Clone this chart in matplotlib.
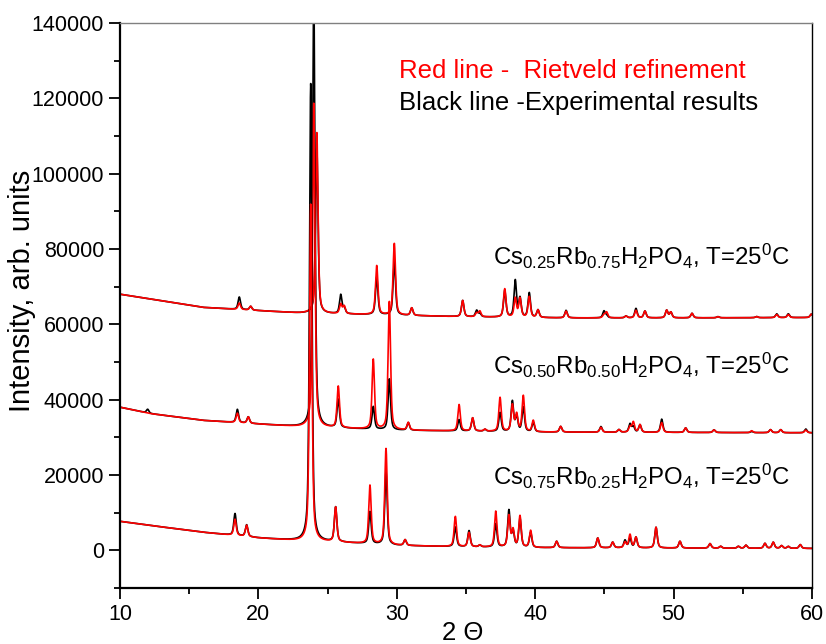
import numpy as np
import matplotlib
matplotlib.use("Agg")
import matplotlib.pyplot as plt

plt.rcParams['font.family'] = ['Liberation Sans', 'DejaVu Sans']
plt.rcParams['mathtext.fontset'] = 'custom'
plt.rcParams['mathtext.rm'] = 'Liberation Sans'
plt.rcParams['mathtext.it'] = 'Liberation Sans:italic'

# Cs0.25Rb0.75H2PO4 (top trace)
top_bg_x = [10, 16, 23, 29, 35, 42, 50, 60]
top_bg_y = [68000, 64500, 63000, 62500, 62000, 61700, 61700, 61800]
top_pos = [18.62, 19.44, 24.22, 25.95, 26.2, 28.55, 29.82, 31.08, 34.76, 35.77, 36.0,
           37.8, 38.56, 38.9, 39.57, 40.2, 42.23, 44.97, 45.16, 46.56, 47.28, 47.93,
           49.5, 49.8, 51.33, 53.2, 56.0, 57.45, 58.29, 59.95]
top_exp = [3300, 1000, 44000, 5000, 1500, 10000, 14500, 2000, 4300, 1700, 800,
           7000, 9700, 5000, 6500, 2000, 2000, 1800, 600, 500, 2500, 1800,
           2000, 1500, 1200, 300, 300, 1000, 1000, 900]
top_fit = [1700, 1000, 48000, 2500, 2000, 13000, 19000, 2000, 4300, 1000, 1500,
           7500, 5000, 5000, 5500, 2000, 1800, 800, 1500, 500, 2000, 1800,
           2000, 1500, 1200, 300, 300, 800, 800, 900]

# Cs0.50Rb0.50H2PO4 (middle trace)
mid_bg_x = [10, 12.2, 16, 23, 30, 40, 50, 60]
mid_bg_y = [38000, 36300, 34500, 32800, 31900, 31400, 31300, 31200]
mid_pos = [12.0, 18.48, 19.27, 24.0, 25.77, 28.3, 29.46, 30.83, 34.5, 35.48, 36.37,
           37.46, 38.35, 38.66, 39.14, 39.86, 41.84, 44.75, 46.05, 46.85, 47.09,
           47.57, 49.14, 50.87, 52.92, 55.64, 57.0, 57.74, 59.55]
mid_exp = [1000, 3500, 1700, 115000, 7500, 6000, 13500, 2000, 3000, 3500, 500,
           5000, 8000, 4000, 6500, 2500, 1500, 1500, 700, 2200, 1500,
           2000, 3500, 1200, 700, 300, 800, 800, 1000]
mid_fit = [0, 2500, 1700, 86000, 11000, 18500, 34000, 2000, 7000, 3500, 500,
           9000, 7000, 4500, 9500, 3000, 1500, 1300, 700, 1500, 2700,
           2000, 2600, 1200, 700, 500, 800, 800, 700]

# Cs0.75Rb0.25H2PO4 (bottom trace)
bot_bg_x = [10, 12.2, 16, 20, 23, 26, 30, 35, 40, 50, 60]
bot_bg_y = [7700, 6600, 4800, 3300, 2500, 2100, 1300, 900, 700, 600, 500]
bot_pos = [18.31, 19.15, 23.78, 25.58, 28.06, 29.22, 30.6, 34.23, 35.22, 36.0,
           37.15, 38.1, 38.4, 38.9, 39.67, 41.55, 44.52, 45.6, 46.49, 46.85,
           47.28, 48.73, 50.46, 52.63, 53.4, 54.68, 55.23, 56.6, 57.2, 57.8,
           58.29, 59.15]
bot_exp = [5800, 3100, 121500, 9200, 8500, 19300, 1500, 5200, 4300, 500,
           6200, 9700, 4000, 7700, 4000, 1700, 2600, 1500, 2000, 2500,
           2800, 5500, 1800, 1200, 500, 500, 800, 1300, 1600, 700,
           500, 1000]
bot_fit = [4300, 3000, 89500, 9200, 15500, 25500, 1500, 8000, 3800, 500,
           9500, 8300, 4500, 8300, 4500, 1700, 2600, 1500, 1500, 3500,
           2800, 5500, 1800, 1200, 500, 500, 800, 1300, 1600, 700,
           500, 1000]

labels = [r"Cs$_{0.25}$Rb$_{0.75}$H$_2$PO$_4$, T=25$^0$C",
          r"Cs$_{0.50}$Rb$_{0.50}$H$_2$PO$_4$, T=25$^0$C",
          r"Cs$_{0.75}$Rb$_{0.25}$H$_2$PO$_4$, T=25$^0$C"]
label_x = [36.95, 36.95, 36.95]
label_y = [75700, 46800, 17300]

two_theta = np.linspace(10, 60, 5001)


def profile(x, pos, heights, bg_x, bg_y, fwhm=0.21, eta=0.55):
    y = np.interp(x, bg_x, bg_y)
    hw = fwhm / 2
    for p, h in zip(pos, heights):
        d = ((x - p) / hw) ** 2
        y = y + h * (eta / (1 + d) + (1 - eta) * np.exp(-np.log(2) * d))
    return y


fig = plt.figure(figsize=(8.26, 6.44), dpi=100)
ax = fig.add_axes([120/826, 1 - 588/644, 692/826, 565/644])

traces = [(top_pos, top_exp, top_fit, top_bg_x, top_bg_y),
          (mid_pos, mid_exp, mid_fit, mid_bg_x, mid_bg_y),
          (bot_pos, bot_exp, bot_fit, bot_bg_x, bot_bg_y)]
for pos, exp, fit, bx, by in traces:
    ax.plot(two_theta, profile(two_theta, pos, exp, bx, by), color='black', lw=1.2)
    ax.plot(two_theta, profile(two_theta, pos, fit, bx, by), color='#ff0000', lw=1.2)

for t, lx, ly in zip(labels, label_x, label_y):
    ax.text(lx, ly, t, fontsize=17.3, va='baseline', ha='left')

ax.text(0.403, 0.903, "Red line -  Rietveld refinement", color='#ff0000',
        fontsize=18.5, transform=ax.transAxes, va='baseline')
ax.text(0.403, 0.846, "Black line -Experimental results", color='black',
        fontsize=18.5, transform=ax.transAxes, va='baseline')

ax.set_xlim(10, 60)
ax.set_ylim(-10000, 140000)
ax.set_xticks(range(10, 61, 10))
ax.set_xticks(range(15, 60, 10), minor=True)
ax.set_yticks(range(0, 140001, 20000))
ax.set_yticks(range(-10000, 140001, 20000), minor=True)
ax.tick_params(which='major', direction='out', length=8, width=1.3, labelsize=15.5,
               top=False, right=False)
ax.tick_params(which='minor', direction='out', length=4.5, width=1.3,
               top=False, right=False)
ax.spines['left'].set_linewidth(1.6)
ax.spines['bottom'].set_linewidth(1.6)
ax.spines['right'].set_linewidth(1.0)
ax.spines['top'].set_linewidth(1.0)
ax.spines['top'].set_color('#808080')

fig.text(22/826, 1 - 291/644, "Intensity, arb. units", rotation=90,
         fontsize=21, ha='center', va='center')
fig.text(463/826, 1 - 633/644, "2 Θ", fontsize=18.5, ha='center', va='center')

fig.savefig("out.png", dpi=100)
